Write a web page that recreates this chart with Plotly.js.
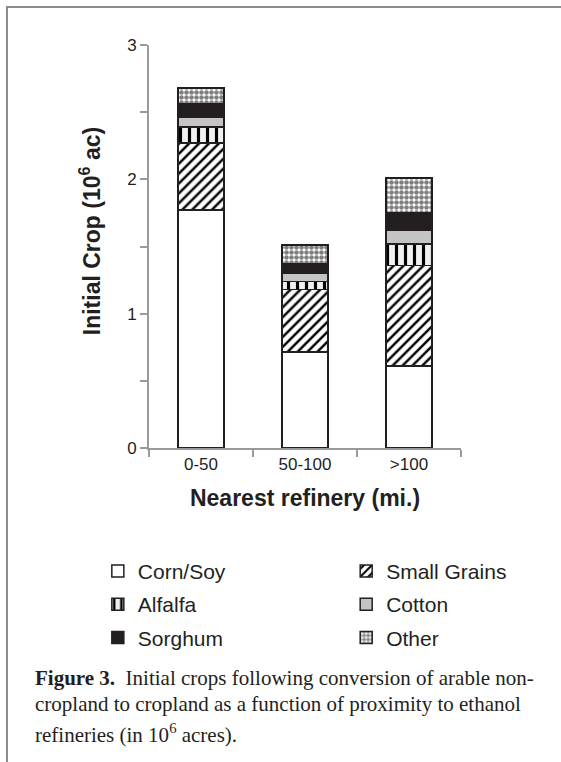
<!DOCTYPE html>
<html>
<head>
<meta charset="utf-8">
<script src="https://cdn.plot.ly/plotly-3.0.1.min.js"></script>
<style>
html,body{margin:0;padding:0;background:#fff;}
#frame{position:absolute;left:6px;top:6px;width:561px;height:762px;border-top:2px solid #8c8c8c;border-left:2px solid #8c8c8c;}
#chart{position:absolute;left:0;top:0;width:561px;height:762px;}
</style>
</head>
<body>
<div id="frame"></div>
<div id="chart"></div>
<script>
// Data
const categories = ["0-50", "50-100", ">100"];
const cornSoy     = [1.77, 0.715, 0.61];
const smallGrains = [0.50, 0.465, 0.75];
const alfalfa     = [0.12, 0.06, 0.16];
const cotton      = [0.07, 0.06, 0.10];
const sorghum     = [0.10, 0.07, 0.13];
const other       = [0.12, 0.14, 0.26];
const seriesNames = ["Corn/Soy", "Small Grains", "Alfalfa", "Cotton", "Sorghum", "Other"];
const yTicks = [0, 1, 2, 3];

const ink = "#231f20";
const font = "Liberation Sans, Arial, sans-serif";
const serif = "Liberation Serif, Times New Roman, serif";

const styles = [
  {color: "#ffffff", pattern: {shape: ""}},
  {color: "#ffffff", pattern: {shape: "/", fgcolor: "#000000", bgcolor: "#ffffff", size: 7, solidity: 0.35}},
  {color: "#f0f0f0", pattern: {shape: "|", fgcolor: "#000000", bgcolor: "#f0f0f0", size: 9, solidity: 0.35}},
  {color: "#c4c4c4", pattern: {shape: ""}},
  {color: ink, pattern: {shape: ""}},
  {color: "#ffffff", pattern: {shape: ".", fgcolor: "#7f7f7f", bgcolor: "#ffffff", size: 5, solidity: 0.65}}
];
const values = [cornSoy, smallGrains, alfalfa, cotton, sorghum, other];
const legendOf = ["legend", "legend2", "legend", "legend2", "legend", "legend2"];

const traces = values.map((v, i) => ({
  type: "bar",
  name: seriesNames[i],
  x: categories,
  y: v,
  legend: legendOf[i],
  legendgroup: "g" + i,
  marker: {
    color: styles[i].color,
    pattern: styles[i].pattern,
    line: {color: ink, width: 1.5}
  },
  hoverinfo: "skip"
}));

const legendCommon = {
  orientation: "v",
  traceorder: "grouped",
  tracegroupgap: 3,
  font: {family: font, size: 21, color: ink},
  bgcolor: "rgba(0,0,0,0)",
  xanchor: "left",
  yanchor: "top",
  itemclick: false
};

const layout = {
  width: 561,
  height: 762,
  paper_bgcolor: "rgba(0,0,0,0)",
  plot_bgcolor: "rgba(0,0,0,0)",
  margin: {l: 149, r: 100, t: 45, b: 314},
  barmode: "stack",
  bargap: 0.56,
  showlegend: true,
  font: {family: font, color: ink},
  xaxis: {
    type: "category",
    tickson: "boundaries",
    ticks: "outside",
    ticklen: 7,
    tickcolor: "#9a9a9a",
    tickwidth: 2,
    showline: true,
    linecolor: "#9a9a9a",
    linewidth: 2,
    showgrid: false,
    zeroline: false,
    tickfont: {family: font, size: 17, color: ink},
    title: {text: "<b>Nearest refinery (mi.)</b>", font: {family: font, size: 23, color: ink}, standoff: 16}
  },
  yaxis: {
    range: [0, 3],
    tickvals: yTicks,
    ticks: "outside",
    ticklen: 7,
    tickcolor: "#9a9a9a",
    tickwidth: 2,
    showline: true,
    linecolor: "#9a9a9a",
    linewidth: 2,
    showgrid: false,
    zeroline: false,
    minor: {dtick: 0.5, ticks: "outside", ticklen: 7, tickcolor: "#9a9a9a", tickwidth: 2, showgrid: false},
    tickfont: {family: font, size: 17, color: ink}
  },
  legend: Object.assign({}, legendCommon, {x: -0.164, y: -0.255}),
  legend2: Object.assign({}, legendCommon, {x: 0.632, y: -0.255}),
  annotations: [
    {xref: "paper", yref: "paper", x: -0.189, y: 0.538, xanchor: "center", yanchor: "middle", textangle: -90, showarrow: false,
     text: "<b>Initial Crop (10<sup>6</sup> ac)</b>", font: {family: font, size: 23, color: ink}},
    {xref: "paper", yref: "paper", x: -0.372, y: -0.535, xanchor: "left", yanchor: "top", align: "left", showarrow: false,
     text: "<b>Figure 3.</b>  Initial crops following conversion of arable non-", font: {family: serif, size: 21, color: ink}},
    {xref: "paper", yref: "paper", x: -0.372, y: -0.601, xanchor: "left", yanchor: "top", align: "left", showarrow: false,
     text: "cropland to cropland as a function of proximity to ethanol", font: {family: serif, size: 21, color: ink}},
    {xref: "paper", yref: "paper", x: -0.372, y: -0.669, xanchor: "left", yanchor: "top", align: "left", showarrow: false,
     text: "refineries (in 10<sup>6</sup> acres).", font: {family: serif, size: 21, color: ink}}
  ]
};

Plotly.newPlot("chart", traces, layout, {displayModeBar: false, staticPlot: true});
</script>
</body>
</html>
